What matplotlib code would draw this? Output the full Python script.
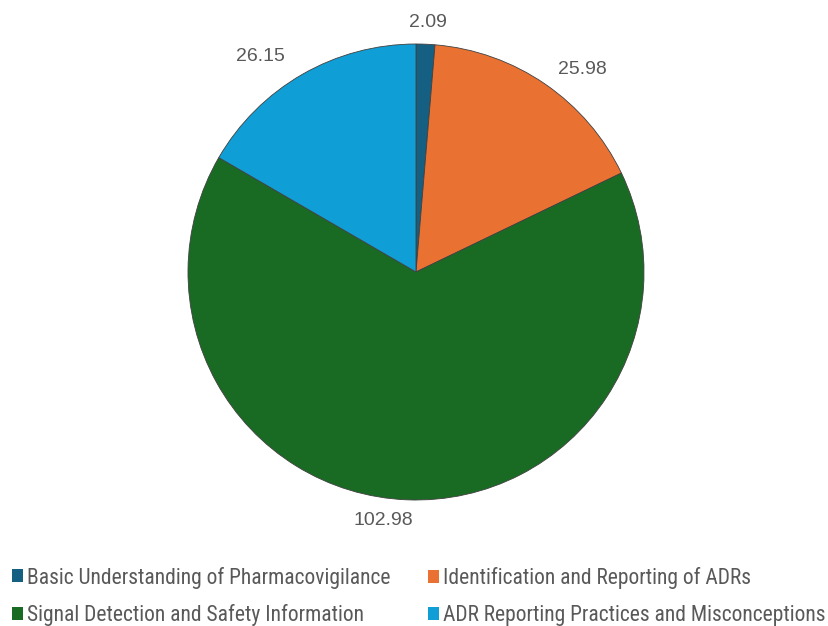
import matplotlib
matplotlib.use("Agg")
import matplotlib.pyplot as plt
import numpy as np

categories = ["Basic Understanding of Pharmacovigilance",
              "Identification and Reporting of ADRs",
              "Signal Detection and Safety Information",
              "ADR Reporting Practices and Misconceptions"]
values = [2.09, 25.98, 102.98, 26.15]
colors = ["#156082", "#E97132", "#196B24", "#0F9ED5"]
# label placement like excel best fit: (angle shift deg, distance)
lab_pos = [(-0.3, 1.097), (-4.8, 1.15), (-5.2, 1.10), (5.9, 1.165)]

W, H = 829, 626
fig = plt.figure(figsize=(W/100, H/100), dpi=100)
cx, cy, r = 416, 272, 228
ax = fig.add_axes([(cx-r)/W, (H-cy-r)/H, 2*r/W, 2*r/H])

wedges, texts = ax.pie(values, colors=colors, startangle=90, counterclock=False,
                       labels=["%.2f" % v for v in values], labeldistance=1.13,
                       wedgeprops=dict(edgecolor="#404040", linewidth=0.6),
                       textprops=dict(color="#595959", fontsize=14, family="Liberation Sans"))
for w, t, (da, d) in zip(wedges, texts, lab_pos):
    a = np.deg2rad((w.theta1 + w.theta2) / 2 + da)
    t.set_position((d*np.cos(a), d*np.sin(a)))
    t.set_ha("center"); t.set_va("center")
ax.set_xlim(-1, 1); ax.set_ylim(-1, 1)
ax.set_aspect("equal")
ax.axis("off")

legprops = dict(frameon=False, handlelength=0.5, handleheight=0.55,
                handletextpad=0.2, labelspacing=0.74, borderpad=0, borderaxespad=0,
                prop=dict(family="Roboto Condensed", size=15.5))
yleg = (H - 596.5) / H
leg1 = fig.legend([wedges[0], wedges[2]], [categories[0], categories[2]],
                  loc="center left", bbox_to_anchor=(12/W, yleg), **legprops)
leg2 = fig.legend([wedges[1], wedges[3]], [categories[1], categories[3]],
                  loc="center left", bbox_to_anchor=(428/W, yleg), **legprops)
for leg in (leg1, leg2):
    for t in leg.get_texts():
        t.set_color("#595959")
    for h in leg.legend_handles:
        h.set_linewidth(0)

fig.savefig("out.png", dpi=100)
